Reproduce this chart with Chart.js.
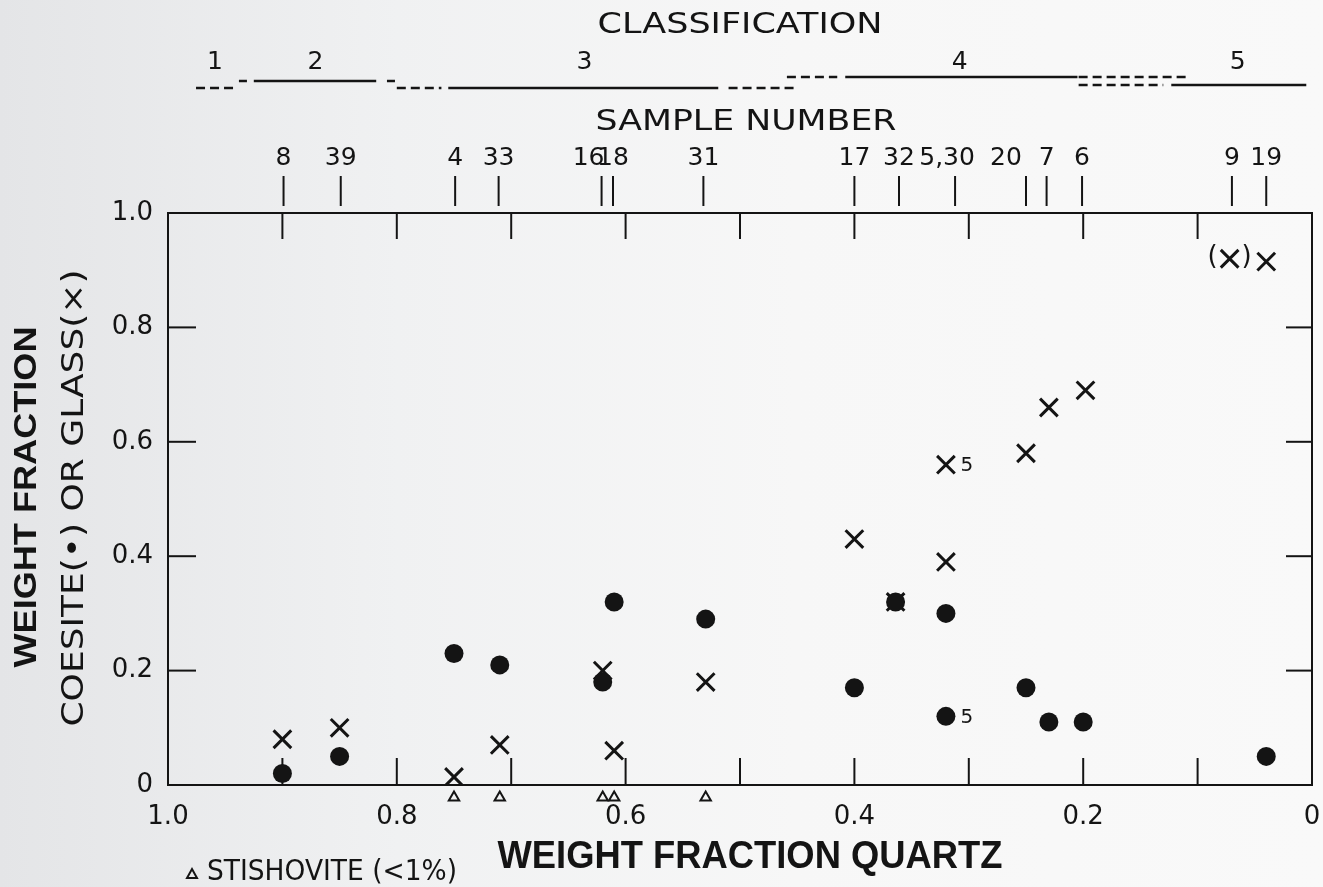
<!DOCTYPE html>
<html>
<head>
<meta charset="utf-8">
<script src="https://cdn.jsdelivr.net/npm/chart.js@4.4.0/dist/chart.umd.min.js"></script>
<style>
html,body{margin:0;padding:0;}
body{width:1323px;height:887px;overflow:hidden;background:linear-gradient(to right,#e4e5e7 0%,#f0f1f2 30%,#f7f7f7 60%,#f9f9f9 100%);}
canvas{display:block;}
</style>
</head>
<body>
<canvas id="chart" width="1323" height="887"></canvas>
<script>
// sample numbers along the top, with their quartz fraction
const sampleNames  = ['8','39','4','33','16','18','31','17','32','5,30','20','7','6','9','19'];
const sampleQuartz = [0.899,0.849,0.749,0.711,0.621,0.611,0.532,0.400,0.361,0.312,0.250,0.232,0.201,0.070,0.040];

// coesite (dots)
const coesiteQuartz = [0.90,0.85,0.75,0.71,0.62,0.61,0.53,0.40,0.364,0.32,0.32,0.25,0.23,0.20,0.04];
const coesiteFrac   = [0.02,0.05,0.23,0.21,0.18,0.32,0.29,0.17,0.32,0.30,0.12,0.17,0.11,0.11,0.05];

// glass (crosses)
const glassQuartz = [0.90,0.85,0.75,0.71,0.62,0.61,0.53,0.40,0.364,0.32,0.32,0.25,0.23,0.198,0.072,0.04];
const glassFrac   = [0.08,0.10,0.014,0.07,0.20,0.06,0.18,0.43,0.32,0.39,0.56,0.58,0.66,0.69,0.92,0.915];

// stishovite (<1%), shown just under the axis
const stishoviteQuartz = [0.75,0.71,0.62,0.61,0.53];
const stishoviteFrac   = [-0.022,-0.022,-0.022,-0.022,-0.022];

// classification bands: [from, to, style, row]
const classNames   = ['1','2','3','4','5'];
const classCentres = [0.959,0.871,0.636,0.308,0.065];
const classRanges = [
  [0.9755,0.9423,'dash','low'],
  [0.938,0.931,'dash','mid'],
  [0.925,0.818,'solid','mid'],
  [0.8086,0.8016,'dash','mid'],
  [0.800,0.761,'dash','low'],
  [0.755,0.519,'solid','low'],
  [0.510,0.452,'dash','low'],
  [0.459,0.415,'dash','high'],
  [0.408,0.205,'solid','high'],
  [0.204,0.1075,'dash','high'],
  [0.204,0.130,'dash','low2'],
  [0.123,0.005,'solid','low2']
];
const rowY = {high:77, mid:81, low:88, low2:85};

const ink = '#141414';
// labels that sit crowded next to a neighbour are nudged left
const labelNudge = {'16': -13, '5,30': -8, '20': -20};

function txt(ctx, s, x, y, font, width, align){
  ctx.save();
  ctx.font = font;
  ctx.fillStyle = ink;
  ctx.textBaseline = 'middle';
  ctx.textAlign = 'center';
  const w = ctx.measureText(s).width;
  const k = width ? width / w : 1;
  ctx.translate(x, y);
  ctx.scale(k, 1);
  if (align === 'left') { ctx.textAlign = 'left'; }
  ctx.fillText(s, 0, 0);
  ctx.restore();
}

function line(ctx, x1, y1, x2, y2){
  ctx.beginPath(); ctx.moveTo(x1, y1); ctx.lineTo(x2, y2); ctx.stroke();
}

const framePlugin = {
  id: 'frame',
  beforeDatasetsDraw(chart){
    const {ctx, chartArea: a, scales: {x, y}} = chart;
    ctx.save();
    ctx.strokeStyle = ink;
    ctx.lineWidth = 2;
    ctx.strokeRect(a.left, a.top, a.right - a.left, a.bottom - a.top);
    x.ticks.forEach(t => {
      if (t.value <= 0.001 || t.value >= 0.999) return;
      const px = x.getPixelForValue(t.value);
      line(ctx, px, a.bottom, px, a.bottom - 27);
      line(ctx, px, a.top, px, a.top + 26);
    });
    y.ticks.forEach(t => {
      if (t.value <= 0.001 || t.value >= 0.999) return;
      const py = y.getPixelForValue(t.value);
      line(ctx, a.left, py, a.left + 28, py);
      line(ctx, a.right, py, a.right - 26, py);
    });
    ctx.restore();
  },
  afterDatasetsDraw(chart){
    // stishovite marks sit below the axis, outside the area Chart.js draws points in
    const ctx = chart.ctx;
    const ds = chart.data.datasets[2];
    ctx.save();
    ctx.strokeStyle = ink;
    ctx.lineWidth = ds.borderWidth;
    ctx.fillStyle = 'rgba(0,0,0,0)';
    chart.getDatasetMeta(2).data.forEach(p => {
      Chart.helpers.drawPoint(ctx, {pointStyle: 'triangle', radius: ds.pointRadius, borderWidth: ds.borderWidth, rotation: 0}, p.x, p.y);
    });
    ctx.restore();
  },
  afterDraw(chart){
    const {ctx, chartArea: a, scales: {x, y}} = chart;
    ctx.save();
    ctx.strokeStyle = ink;
    ctx.lineWidth = 2;

    // sample number ticks and labels
    sampleQuartz.forEach((q, i) => {
      const px = x.getPixelForValue(q);
      line(ctx, px, 176, px, 206);
      const n = sampleNames[i];
      txt(ctx, n, px + (labelNudge[n] || 0), 158, '25px "DejaVu Sans"');
    });
    txt(ctx, 'SAMPLE NUMBER', 746, 123, '28px "DejaVu Sans"', 301);

    // classification
    txt(ctx, 'CLASSIFICATION', 740, 26, '28px "DejaVu Sans"', 285);
    classNames.forEach((n, i) => {
      txt(ctx, n, x.getPixelForValue(classCentres[i]), 62, '25px "DejaVu Sans"');
    });
    classRanges.forEach(r => {
      ctx.setLineDash(r[2] === 'dash' ? [9, 5] : []);
      ctx.lineWidth = 2.5;
      line(ctx, x.getPixelForValue(r[0]), rowY[r[3]], x.getPixelForValue(r[1]), rowY[r[3]]);
    });
    ctx.setLineDash([]);

    // notes next to points
    const cm = chart.getDatasetMeta(0).data;
    const gm = chart.getDatasetMeta(1).data;
    txt(ctx, '5', cm[10].x + 21, cm[10].y + 1, '20px "DejaVu Sans"');
    txt(ctx, '5', gm[10].x + 21, gm[10].y + 1, '20px "DejaVu Sans"');
    txt(ctx, '(', gm[14].x - 17, gm[14].y - 2, '26px "DejaVu Sans"');
    txt(ctx, ')', gm[14].x + 17, gm[14].y - 2, '26px "DejaVu Sans"');

    // axis titles
    txt(ctx, 'WEIGHT FRACTION QUARTZ', 750, 858, 'bold 38px "Liberation Sans"', 505);
    ctx.save();
    ctx.translate(27, 497);
    ctx.rotate(-Math.PI / 2);
    txt(ctx, 'WEIGHT FRACTION', 0, 0, 'bold 32px "Liberation Sans"', 341);
    ctx.restore();
    ctx.save();
    ctx.translate(75, 498);
    ctx.rotate(-Math.PI / 2);
    txt(ctx, 'COESITE(\u2022) OR GLASS(\u00D7)', 0, 0, '30px "DejaVu Sans"', 457);
    ctx.restore();

    // stishovite key
    ctx.lineWidth = 2;
    ctx.beginPath();
    ctx.moveTo(187, 878); ctx.lineTo(197, 878); ctx.lineTo(192, 869); ctx.closePath();
    ctx.stroke();
    txt(ctx, 'STISHOVITE (<1%)', 207, 873, '28px "DejaVu Sans"', 250, 'left');
    ctx.restore();
  }
};

const toPts = (xs, ys) => xs.map((v, i) => ({x: v, y: ys[i]}));

new Chart(document.getElementById('chart').getContext('2d'), {
  type: 'scatter',
  data: {
    datasets: [
      {
        label: 'Coesite',
        data: toPts(coesiteQuartz, coesiteFrac),
        pointStyle: 'circle',
        pointRadius: 9.5,
        backgroundColor: ink,
        borderColor: ink,
        borderWidth: 0
      },
      {
        label: 'Glass',
        data: toPts(glassQuartz, glassFrac),
        pointStyle: 'crossRot',
        pointRadius: 12.5,
        borderColor: ink,
        borderWidth: 3
      },
      {
        label: 'Stishovite',
        data: toPts(stishoviteQuartz, stishoviteFrac),
        pointStyle: 'triangle',
        pointRadius: 6,
        backgroundColor: 'rgba(0,0,0,0)',
        borderColor: ink,
        borderWidth: 2,
        clip: false
      }
    ]
  },
  options: {
    responsive: false,
    animation: false,
    devicePixelRatio: 1,
    layout: {autoPadding: false, padding: {top: 213, right: 11, left: 0, bottom: 0}},
    plugins: {legend: {display: false}, tooltip: {enabled: false}},
    scales: {
      x: {
        type: 'linear',
        reverse: true,
        min: 0,
        max: 1,
        border: {display: false},
        grid: {display: false, drawTicks: false},
        ticks: {
          stepSize: 0.1,
          autoSkip: false,
          maxRotation: 0,
          padding: 17,
          color: ink,
          font: {family: 'DejaVu Sans', size: 26},
          callback: v => {
            const k = Math.round(v * 10);
            if (k % 2) return '';
            return k === 0 ? '0' : (k / 10).toFixed(1);
          }
        },
        afterFit: s => { s.height = 102; s.paddingLeft = 0; s.paddingRight = 0; }
      },
      y: {
        min: 0,
        max: 1,
        border: {display: false},
        grid: {display: false, drawTicks: false},
        ticks: {
          stepSize: 0.2,
          padding: 15,
          color: ink,
          font: {family: 'DejaVu Sans', size: 26},
          callback: v => Math.round(v * 10) === 0 ? '0' : v.toFixed(1)
        },
        afterFit: s => { s.width = 168; }
      }
    }
  },
  plugins: [framePlugin]
});
</script>
</body>
</html>
